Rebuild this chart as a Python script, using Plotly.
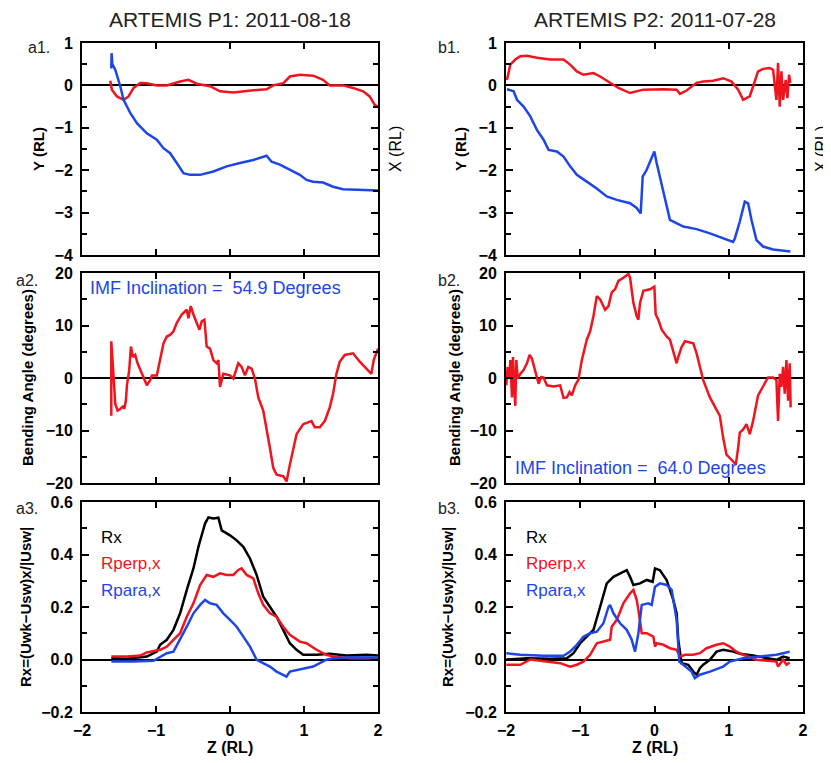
import plotly.graph_objects as go

# ---------------- DATA ----------------
# Panel a1 (ARTEMIS P1) : red and blue traces vs Z (RL)
a1_red_z = [-1.618, -1.596, -1.528, -1.438, -1.371, -1.303, -1.213, -1.124, -0.989, -0.854, -0.674, -0.562,
            -0.449, -0.270, -0.135, 0.045, 0.225, 0.494, 0.584, 0.719, 0.809, 0.944, 1.124, 1.258, 1.348,
            1.528, 1.663, 1.798, 1.888, 1.955, 2.0]
a1_red = [0.11, -0.10, -0.26, -0.34, -0.26, -0.06, 0.055, 0.05, 0.0, 0.0, 0.09, 0.13,
          0.04, -0.02, -0.14, -0.17, -0.13, -0.09, 0.0, 0.05, 0.21, 0.25, 0.23, 0.13, 0.0,
          0.0, -0.06, -0.14, -0.26, -0.46, -0.51]
a1_blue_z = [-1.604, -1.600, -1.590, -1.551, -1.483, -1.438, -1.348, -1.258, -1.124, -0.989, -0.899, -0.809,
             -0.719, -0.629, -0.539, -0.404, -0.225, -0.045, 0.135, 0.315, 0.494, 0.562, 0.674, 0.809,
             0.944, 1.034, 1.124, 1.258, 1.393, 1.528, 1.708, 2.0]
a1_blue = [0.40, 0.76, 0.50, 0.37, -0.02, -0.34, -0.65, -0.89, -1.13, -1.28, -1.48, -1.60,
           -1.83, -2.07, -2.11, -2.11, -2.03, -1.91, -1.83, -1.76, -1.66, -1.80, -1.87, -1.99,
           -2.11, -2.23, -2.27, -2.29, -2.39, -2.45, -2.46, -2.48]

# Panel b1 (ARTEMIS P2)
b1_red_z = [-1.987, -1.942, -1.875, -1.807, -1.718, -1.584, -1.404, -1.225, -1.136, -1.046, -0.957, -0.823,
            -0.732, -0.598, -0.486, -0.330, -0.150, 0.119, 0.298, 0.343, 0.432, 0.566, 0.656, 0.790,
            0.925, 1.037, 1.127, 1.194, 1.283, 1.328, 1.395, 1.462, 1.552, 1.597, 1.642, 1.664, 1.687,
            1.709, 1.732, 1.767, 1.790, 1.812, 1.830]
b1_red = [0.13, 0.49, 0.61, 0.69, 0.70, 0.65, 0.61, 0.61, 0.49, 0.33, 0.25, 0.29,
          0.21, 0.06, -0.06, -0.18, -0.10, -0.09, -0.10, -0.20, -0.12, 0.06, 0.09, 0.11,
          0.17, 0.09, -0.10, -0.34, -0.26, -0.02, 0.33, 0.39, 0.41, 0.37, -0.34, 0.53, -0.50,
          0.33, -0.34, 0.13, -0.30, 0.25, 0.06]
b1_blue_z = [-1.987, -1.897, -1.852, -1.763, -1.673, -1.584, -1.494, -1.427, -1.315, -1.225, -1.136, -1.046,
             -0.912, -0.778, -0.643, -0.508, -0.329, -0.240, -0.186, -0.159, -0.105, -0.038, -0.002, 0.029,
             0.119, 0.208, 0.388, 0.567, 0.746, 0.925, 1.059, 1.082, 1.149, 1.216, 1.261, 1.306, 1.373,
             1.462, 1.597, 1.830]
b1_blue = [-0.09, -0.14, -0.34, -0.50, -0.73, -1.05, -1.28, -1.52, -1.56, -1.68, -1.91, -2.11,
           -2.27, -2.43, -2.62, -2.70, -2.78, -2.89, -3.02, -2.15, -1.99, -1.68, -1.56, -1.83,
           -2.54, -3.17, -3.33, -3.39, -3.49, -3.61, -3.69, -3.61, -3.21, -2.74, -2.78, -3.17, -3.65,
           -3.80, -3.87, -3.92]

# Panel a2: bending angle (degrees)
a2_z = [-1.604, -1.604, -1.573, -1.551, -1.519, -1.483, -1.438, -1.429, -1.407, -1.393, -1.362, -1.339,
        -1.312, -1.281, -1.249, -1.191, -1.124, -1.079, -1.056, -0.989, -0.944, -0.899, -0.854, -0.809,
        -0.764, -0.719, -0.652, -0.584, -0.562, -0.530, -0.494, -0.449, -0.413, -0.382, -0.346, -0.315,
        -0.270, -0.225, -0.180, -0.157, -0.135, -0.090, 0.0, 0.045, 0.112, 0.157, 0.202, 0.247, 0.292,
        0.337, 0.382, 0.449, 0.494, 0.539, 0.584, 0.629, 0.719, 0.764, 0.809, 0.854, 0.899, 0.989,
        1.101, 1.146, 1.213, 1.281, 1.348, 1.393, 1.438, 1.483, 1.551, 1.663, 1.753, 1.843, 1.910,
        1.942, 2.0]
a2_angle = [-7.2, 7.0, 0.2, -4.9, -6.2, -5.9, -5.3, -5.9, -4.3, -1.4, 1.5, 6.0,
            4.0, 4.4, 2.8, 0.8, -1.4, -0.4, 0.5, 0.5, 3.4, 6.6, 7.9, 8.2,
            8.9, 10.5, 12.1, 13.0, 11.4, 13.7, 12.1, 10.5, 9.2, 10.8, 11.1, 6.0,
            5.6, 3.4, 2.8, 3.4, -1.7, 0.8, 0.5, -0.1, 2.8, 2.1, 0.5, 2.1, 1.8,
            -0.1, -3.7, -6.2, -9.4, -13.3, -17.1, -18.4, -18.7, -19.7, -16.5, -13.3, -10.7, -8.8,
            -8.2, -9.4, -9.4, -8.2, -5.6, -3.0, 0.8, 3.1, 4.4, 4.7, 3.1, 1.8, 0.8,
            3.4, 5.6]

# Panel b2
b2_z = [-1.996, -1.978, -1.955, -1.942, -1.919, -1.906, -1.888, -1.875, -1.861, -1.843, -1.807, -1.763,
        -1.718, -1.682, -1.651, -1.606, -1.561, -1.525, -1.494, -1.449, -1.360, -1.270, -1.225, -1.180,
        -1.144, -1.113, -1.068, -1.024, -0.979, -0.912, -0.867, -0.822, -0.777, -0.733, -0.665, -0.620,
        -0.576, -0.531, -0.486, -0.419, -0.352, -0.329, -0.284, -0.240, -0.217, -0.195, -0.150, -0.060,
        -0.002, 0.016, 0.052, 0.097, 0.163, 0.208, 0.253, 0.298, 0.320, 0.365, 0.410, 0.522, 0.567,
        0.611, 0.656, 0.746, 0.813, 0.880, 0.925, 0.970, 1.059, 1.095, 1.126, 1.149, 1.194, 1.239,
        1.283, 1.328, 1.395, 1.462, 1.529, 1.597, 1.642, 1.664, 1.687, 1.709, 1.732, 1.754, 1.777,
        1.799, 1.821, 1.834]
b2_angle = [-1.4, 2.1, -0.1, 3.4, -3.7, 4.0, -2.0, -5.3, 3.4, -0.1, 0.8, 1.5,
            2.8, 4.4, 3.7, 1.2, -1.1, 0.2, 0.1, -1.4, -1.6, -1.4, -3.8, -3.7,
            -2.7, -3.3, -1.4, -0.3, 3.4, 7.3, 8.9, 11.8, 15.6, 15.0, 13.0, 13.7,
            16.3, 16.9, 18.5, 19.1, 19.8, 19.1, 14.3, 11.8, 11.1, 14.3, 16.6, 16.9,
            17.4, 12.1, 11.1, 9.2, 7.9, 7.3, 5.0, 2.8, 4.0, 5.9, 7.0, 6.6, 4.7,
            2.1, -0.4, -3.7, -5.6, -7.2, -11.4, -14.6, -15.9, -16.5, -13.3, -10.4, -9.8, -8.8,
            -10.7, -8.2, -3.3, -1.7, 0.1, 0.1, -0.4, -8.2, 0.8, -1.7, 2.1, -3.0, 3.4,
            -4.3, 2.8, -5.6]

# Panel a3: Rx, Rperp,x, Rpara,x
a3_rx_z = [-1.604, -1.393, -1.124, -0.989, -0.944, -0.854, -0.764, -0.674, -0.584, -0.494, -0.427, -0.382,
           -0.337, -0.292, -0.225, -0.157, -0.112, 0.0, 0.090, 0.180, 0.270, 0.360, 0.449, 0.539,
           0.629, 0.719, 0.809, 0.899, 0.989, 1.169, 1.348, 1.573, 1.843, 2.0]
a3_rx = [0.005, 0.003, 0.011, 0.030, 0.056, 0.075, 0.113, 0.176, 0.265, 0.347, 0.429, 0.473,
         0.518, 0.541, 0.537, 0.540, 0.492, 0.473, 0.454, 0.429, 0.385, 0.322, 0.239, 0.201,
         0.163, 0.113, 0.062, 0.037, 0.018, 0.018, 0.022, 0.015, 0.018, 0.015]
a3_rperp_z = [-1.604, -1.393, -1.213, -1.124, -0.944, -0.854, -0.764, -0.674, -0.584, -0.494, -0.404, -0.315,
              -0.225, -0.135, -0.045, 0.045, 0.112, 0.157, 0.225, 0.315, 0.382, 0.449, 0.539, 0.629,
              0.719, 0.809, 0.944, 1.034, 1.169, 1.303, 1.393, 1.618, 2.0]
a3_rperp = [0.011, 0.011, 0.015, 0.027, 0.037, 0.049, 0.075, 0.100, 0.163, 0.214, 0.284, 0.322,
            0.315, 0.328, 0.322, 0.322, 0.341, 0.347, 0.322, 0.309, 0.252, 0.208, 0.176, 0.163,
            0.125, 0.094, 0.068, 0.062, 0.037, 0.018, 0.011, 0.005, 0.005]
a3_rpara_z = [-1.604, -1.303, -1.034, -0.944, -0.854, -0.764, -0.674, -0.584, -0.494, -0.404, -0.337, -0.270,
              -0.180, -0.090, 0.0, 0.090, 0.180, 0.270, 0.360, 0.449, 0.539, 0.629, 0.719, 0.764,
              0.809, 0.944, 1.034, 1.124, 1.213, 1.303, 1.393, 1.618, 2.0]
a3_rpara = [-0.008, -0.008, -0.005, 0.011, 0.024, 0.030, 0.075, 0.125, 0.176, 0.208, 0.227, 0.214,
            0.208, 0.176, 0.151, 0.125, 0.087, 0.049, -0.001, -0.014, -0.027, -0.046, -0.058, -0.065,
            -0.046, -0.039, -0.033, -0.027, -0.014, -0.001, 0.005, 0.009, 0.008]

# Panel b3
b3_rx_z = [-1.996, -1.718, -1.404, -1.180, -1.091, -1.001, -0.912, -0.822, -0.733, -0.643, -0.553, -0.464,
           -0.374, -0.329, -0.284, -0.195, -0.105, -0.025, 0.007, 0.074, 0.163, 0.253, 0.298, 0.320,
           0.365, 0.455, 0.522, 0.567, 0.611, 0.656, 0.746, 0.835, 0.925, 1.059, 1.149, 1.328, 1.642,
           1.732, 1.821]
b3_rx = [0.0, 0.005, 0.003, 0.005, 0.024, 0.062, 0.087, 0.113, 0.200, 0.290, 0.315, 0.328,
         0.340, 0.315, 0.284, 0.290, 0.303, 0.296, 0.347, 0.340, 0.303, 0.227, 0.176, 0.075,
         -0.014, -0.020, -0.046, -0.058, -0.033, -0.020, -0.001, 0.030, 0.037, 0.030, 0.022, 0.015, -0.001,
         0.011, 0.005]
b3_rperp_z = [-1.996, -1.807, -1.673, -1.404, -1.270, -1.136, -1.046, -0.957, -0.867, -0.777, -0.688, -0.598,
              -0.576, -0.508, -0.419, -0.329, -0.284, -0.240, -0.217, -0.172, -0.105, -0.016, 0.007, 0.029,
              0.119, 0.208, 0.298, 0.343, 0.410, 0.522, 0.611, 0.701, 0.835, 0.925, 1.015, 1.104, 1.194,
              1.373, 1.642, 1.664, 1.732, 1.777, 1.821]
b3_rperp = [-0.020, -0.020, 0.0, -0.011, -0.014, -0.027, -0.020, -0.008, 0.018, 0.062, 0.068, 0.075,
            0.125, 0.151, 0.214, 0.252, 0.265, 0.227, 0.189, 0.100, 0.100, 0.087, 0.049, 0.062,
            0.056, 0.043, 0.037, 0.011, 0.018, 0.018, 0.024, 0.043, 0.056, 0.062, 0.049, 0.030, 0.018,
            -0.001, -0.008, -0.027, -0.001, -0.020, -0.011]
b3_rpara_z = [-1.996, -1.807, -1.494, -1.225, -1.136, -1.046, -0.957, -0.867, -0.777, -0.688, -0.620, -0.598,
              -0.553, -0.464, -0.374, -0.307, -0.262, -0.217, -0.172, -0.083, -0.038, 0.007, 0.074, 0.163,
              0.231, 0.275, 0.298, 0.334, 0.410, 0.499, 0.544, 0.611, 0.746, 0.925, 1.015, 1.194, 1.418,
              1.642, 1.732, 1.821]
b3_rpara = [0.024, 0.018, 0.014, 0.014, 0.030, 0.056, 0.087, 0.100, 0.106, 0.138, 0.200, 0.208,
            0.176, 0.138, 0.113, 0.075, 0.030, 0.100, 0.208, 0.214, 0.208, 0.277, 0.290, 0.284,
            0.265, 0.200, 0.151, -0.008, -0.027, -0.046, -0.071, -0.058, -0.046, -0.027, -0.008, 0.005, 0.011,
            0.018, 0.024, 0.030]

titles = ["ARTEMIS P1: 2011-08-18", "ARTEMIS P2: 2011-07-28"]
panel_labels = [["a1.", "a2.", "a3."], ["b1.", "b2.", "b3."]]
y_titles = ["Y (RL)", "Bending Angle (degrees)", "Rx=(Uwk−Usw)x/|Usw|"]
right_title = "X (RL)"
x_title = "Z (RL)"
imf_texts = ["IMF Inclination =  54.9 Degrees", "IMF Inclination =  64.0 Degrees"]
legend_names = ["Rx", "Rperp,x", "Rpara,x"]
y_ranges = [[-4, 1], [-20, 20], [-0.2, 0.6]]
y_dticks = [1, 10, 0.2]
y_minor = [0.5, 5, 0.1]
y_formats = ["d", "d", ".1f"]

# ---------------- STYLE / LAYOUT ----------------
W, H = 831, 763
OFF = 8  # page body margin of the browser
RED = "#f0141e"
BLUE = "#1e46e6"
BLACK = "#000000"
FONT = "Liberation Sans"

col_px = [(82, 378), (506, 803)]
row_px = [(43, 255), (273, 483), (502, 712)]


def fx(p):
    return (p - OFF) / W


def fy(p):
    return 1 - (p - OFF) / H


fig = go.Figure()

series = [
    [[(a1_red_z, a1_red, RED), (a1_blue_z, a1_blue, BLUE)],
     [(a2_z, a2_angle, RED)],
     [(a3_rx_z, a3_rx, BLACK), (a3_rperp_z, a3_rperp, RED), (a3_rpara_z, a3_rpara, BLUE)]],
    [[(b1_red_z, b1_red, RED), (b1_blue_z, b1_blue, BLUE)],
     [(b2_z, b2_angle, RED)],
     [(b3_rx_z, b3_rx, BLACK), (b3_rperp_z, b3_rperp, RED), (b3_rpara_z, b3_rpara, BLUE)]],
]

layout = {}
annotations = []
tickfont = dict(family=FONT, size=16, color="black", weight="bold")

for c in range(2):
    for r in range(3):
        idx = r * 2 + c + 1
        xa = "xaxis" if idx == 1 else f"xaxis{idx}"
        ya = "yaxis" if idx == 1 else f"yaxis{idx}"
        xr = "x" if idx == 1 else f"x{idx}"
        yr = "y" if idx == 1 else f"y{idx}"
        x0, x1 = col_px[c]
        y0, y1 = row_px[r]
        layout[xa] = dict(
            domain=[fx(x0), fx(x1)], range=[-2, 2], dtick=1, tick0=0, automargin=False,
            anchor=yr, showline=True, linecolor="black", linewidth=2, mirror="ticks",
            ticks="inside", ticklen=6, tickwidth=2, tickcolor="black",
            showgrid=False, zeroline=False, showticklabels=(r == 2),
            tickfont=tickfont, ticklabelstandoff=3,
        )
        layout[ya] = dict(
            domain=[fy(y1), fy(y0)], range=y_ranges[r], dtick=y_dticks[r], tick0=0, automargin=False,
            anchor=xr, showline=True, linecolor="black", linewidth=2, mirror="ticks",
            ticks="inside", ticklen=7, tickwidth=2, tickcolor="black",
            minor=dict(dtick=y_minor[r], ticklen=5, tickwidth=2, tickcolor="black", ticks="inside"),
            showgrid=False, zeroline=True, zerolinecolor="black", zerolinewidth=2,
            tickfont=tickfont, tickformat=y_formats[r], ticklabelstandoff=4,
        )
        for zs, vs, colr in series[c][r]:
            fig.add_trace(go.Scatter(x=zs, y=vs, mode="lines", xaxis=xr, yaxis=yr,
                                     line=dict(color=colr, width=2.5), showlegend=False))

# Titles
for c in range(2):
    x0, x1 = col_px[c]
    annotations.append(dict(text=titles[c], x=fx((x0 + x1) / 2), y=fy(20), xref="paper", yref="paper",
                            showarrow=False, font=dict(family=FONT, size=21, color="#222222"),
                            xanchor="center", yanchor="middle"))

# Panel labels
label_x = [[26, 14, 14], [436, 436, 436]]
label_y = [48, 280, 508]
for c in range(2):
    for r in range(3):
        annotations.append(dict(text=panel_labels[c][r], x=fx(label_x[c][r]), y=fy(label_y[r]),
                                xref="paper", yref="paper", showarrow=False, xanchor="left",
                                yanchor="middle", font=dict(family=FONT, size=16, color="#222222")))

# Y axis titles
ytitle_x = [[38, 28, 25], [460, 455, 447]]
for c in range(2):
    for r in range(3):
        y0, y1 = row_px[r]
        annotations.append(dict(text=y_titles[r], x=fx(ytitle_x[c][r]), y=fy((y0 + y1) / 2),
                                xref="paper", yref="paper", showarrow=False, textangle=-90,
                                xanchor="center", yanchor="middle",
                                font=dict(family=FONT, size=15, color="black", weight="bold")))

# Right-hand X (RL) titles on the top panels
for c, xp in enumerate([395, 821]):
    y0, y1 = row_px[0]
    annotations.append(dict(text=right_title, x=fx(xp), y=fy((y0 + y1) / 2), xref="paper", yref="paper",
                            showarrow=False, textangle=-90, xanchor="center", yanchor="middle",
                            font=dict(family=FONT, size=16, color="black")))

# Z (RL) x titles
for c in range(2):
    x0, x1 = col_px[c]
    annotations.append(dict(text=x_title, x=fx((x0 + x1) / 2), y=fy(747), xref="paper", yref="paper",
                            showarrow=False, xanchor="center", yanchor="middle",
                            font=dict(family=FONT, size=16, color="black", weight="bold")))

# IMF inclination texts
imf_pos = [(88, 288), (513, 468)]
for c in range(2):
    annotations.append(dict(text=imf_texts[c], x=fx(imf_pos[c][0]), y=fy(imf_pos[c][1]), xref="paper",
                            yref="paper", showarrow=False, xanchor="left", yanchor="middle",
                            font=dict(family=FONT, size=18, color=BLUE)))

# In-panel legends
leg_colors = [BLACK, RED, BLUE]
leg_x = [99, 524]
leg_y = [537, 563, 590]
for c in range(2):
    for k in range(3):
        annotations.append(dict(text=legend_names[k], x=fx(leg_x[c]), y=fy(leg_y[k]), xref="paper",
                                yref="paper", showarrow=False, xanchor="left", yanchor="middle",
                                font=dict(family=FONT, size=17, color=leg_colors[k])))

fig.update_layout(
    width=W, height=H, margin=dict(l=0, r=0, t=0, b=0, pad=0, autoexpand=False),
    paper_bgcolor="white", plot_bgcolor="white",
    annotations=annotations, showlegend=False,
    **layout,
)

fig.write_html("out.html")
